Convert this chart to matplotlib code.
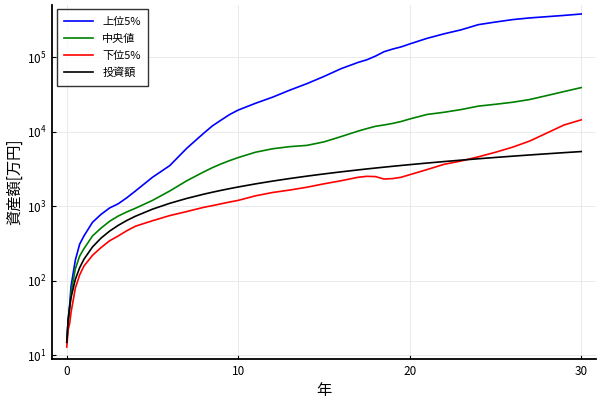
import matplotlib
matplotlib.use("Agg")
import matplotlib.pyplot as plt
from matplotlib.ticker import LogLocator, NullLocator

plt.rcParams['font.family'] = ['Noto Sans CJK JP', 'DejaVu Sans']
plt.rcParams['mathtext.fontset'] = 'dejavusans'

# years elapsed
years = [0, 0.08, 0.17, 0.25, 0.5, 0.75, 1, 1.5, 2, 2.5, 3, 3.5, 4, 5, 6, 7, 8, 8.5, 9,
         9.5, 10, 11, 12, 13, 14, 15, 16, 17, 17.5, 18, 18.5, 19, 19.5, 20, 21, 22,
         23, 24, 25, 26, 27, 28, 29, 30]

# asset values [万円]
top5 = [15, 30, 48, 85, 190, 310, 400, 610, 780, 950, 1080, 1300, 1600, 2450,
        3500, 6000, 9600, 12000, 14300, 17000, 19500, 24000, 29000, 36000, 44000, 55000,
        70000, 85000, 92000, 103000, 118000, 128000, 137000, 150000, 178000,
        205000, 232000, 272000, 295000, 318000, 335000, 348000, 362000, 378000]
median = [15, 28, 42, 70, 145, 215, 270, 400, 510, 630, 740, 840, 940, 1200,
          1600, 2200, 2900, 3300, 3700, 4100, 4500, 5300, 5900, 6300, 6550, 7300, 8600,
          10200, 11000, 11800, 12300, 12900, 13700, 14800, 17000, 18200, 19800,
          22000, 23300, 24800, 27000, 30500, 34500, 39000]
bottom5 = [13, 22, 27, 38, 80, 120, 158, 220, 280, 345, 400, 470, 540, 640,
           750, 850, 970, 1020, 1080, 1140, 1200, 1380, 1530, 1650, 1800, 2000, 2200, 2450,
           2520, 2500, 2320, 2350, 2450, 2650, 3100, 3650, 4050, 4600, 5300,
           6200, 7500, 9600, 12300, 14400]
invested = [15, 30, 45, 60, 105, 150, 195, 285, 375, 465, 555, 645, 735, 915,
            1095, 1275, 1455, 1545, 1635, 1725, 1815, 1995, 2175, 2355, 2535, 2715, 2895,
            3075, 3165, 3255, 3345, 3435, 3525, 3615, 3795, 3975, 4155, 4335,
            4515, 4695, 4875, 5055, 5235, 5415]

fig = plt.figure(figsize=(6, 4), dpi=100)
ax = fig.add_axes([0.087, 0.1025, 0.906, 0.885])

ax.plot(years, top5, color='blue', lw=1.2, label='上位5%')
ax.plot(years, median, color='green', lw=1.2, label='中央値')
ax.plot(years, bottom5, color='red', lw=1.2, label='下位5%')
ax.plot(years, invested, color='black', lw=1.2, label='投資額')

ax.set_yscale('log')
ax.set_xlim(-0.85, 30.85)
ax.set_ylim(8.97, 4.99e5)
ax.set_xticks([0, 10, 20, 30])
ax.yaxis.set_major_locator(LogLocator(base=10, numticks=10))
ax.yaxis.set_minor_locator(NullLocator())

ax.grid(True, color='#e6e6e6', lw=0.6)
ax.set_axisbelow(True)
for side in ['top', 'right']:
    ax.spines[side].set_visible(False)
for side in ['left', 'bottom']:
    ax.spines[side].set_linewidth(1.3)
ax.tick_params(direction='in', length=3, width=0.8, labelsize=8.5, pad=4)

ax.set_xlabel('年', fontsize=11, labelpad=3)
ax.set_ylabel('資産額[万円]', fontsize=11, labelpad=3)

leg = ax.legend(loc='upper left', fontsize=8, frameon=True, fancybox=False,
                edgecolor='black', borderpad=0.7, handlelength=2.6,
                labelspacing=0.6, borderaxespad=0.4)
leg.get_frame().set_linewidth(1.0)

fig.savefig('out.png', dpi=100)
